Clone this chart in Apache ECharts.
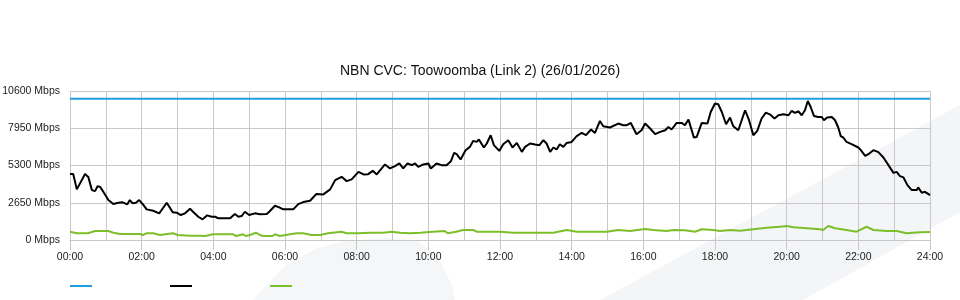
<!DOCTYPE html>
<html>
<head>
<meta charset="utf-8">
<script src="https://cdn.jsdelivr.net/npm/echarts@6/dist/echarts.min.js"></script>
<style>html,body{margin:0;padding:0;background:#fff;}#c{width:960px;height:300px;}</style>
</head>
<body>
<div id="c"></div>
<script>
// ---- data (hours of day, Mbps) ----
const titleText = 'NBN CVC: Toowoomba (Link 2) (26/01/2026)';
const yTicks = [0, 2650, 5300, 7950, 10600];
const xTickHours = [0, 2, 4, 6, 8, 10, 12, 14, 16, 18, 20, 22, 24];
const seriesNames = ['Capacity', 'Traffic', 'Other'];

const capacityTimes = [0, 24];
const capacityValues = [10050, 10050];

const trafficTimes = [0,0.09,0.19,0.42,0.51,0.61,0.70,0.77,0.84,0.93,1.07,1.21,1.35,1.47,1.60,1.67,1.75,1.84,1.93,2.03,2.14,2.32,2.49,2.70,2.87,2.98,3.09,3.21,3.35,3.44,3.58,3.70,3.83,3.95,4.05,4.14,4.47,4.60,4.70,4.79,4.88,5.00,5.16,5.30,5.49,5.56,5.72,5.84,5.95,6.14,6.23,6.37,6.51,6.70,6.87,7.07,7.26,7.40,7.58,7.72,7.86,8.05,8.19,8.32,8.45,8.56,8.79,8.93,9.07,9.19,9.30,9.42,9.54,9.63,9.72,9.86,10.00,10.07,10.23,10.37,10.51,10.63,10.72,10.79,10.90,11.04,11.16,11.25,11.35,11.41,11.55,11.63,11.74,11.83,11.98,12.09,12.23,12.35,12.47,12.61,12.70,12.84,12.98,13.10,13.21,13.30,13.40,13.49,13.58,13.67,13.77,13.86,14.00,14.14,14.28,14.40,14.54,14.65,14.79,14.88,15.07,15.30,15.44,15.54,15.65,15.81,15.95,16.05,16.19,16.33,16.47,16.61,16.70,16.79,16.93,17.07,17.16,17.26,17.41,17.49,17.63,17.79,17.88,18.00,18.09,18.19,18.31,18.42,18.51,18.65,18.84,18.95,19.07,19.18,19.30,19.42,19.54,19.66,19.77,19.91,20.05,20.14,20.23,20.33,20.42,20.51,20.59,20.67,20.76,20.88,20.98,21.04,21.13,21.26,21.35,21.44,21.51,21.58,21.67,21.81,22.00,22.07,22.19,22.28,22.42,22.56,22.70,22.84,22.98,23.07,23.16,23.26,23.37,23.49,23.63,23.67,23.77,23.86,24.00];
const trafficValues = [4690,4690,3600,4690,4490,3550,3480,3830,3780,3430,2840,2556,2650,2680,2535,2840,2605,2650,2840,2556,2180,2080,1896,2650,1967,1940,1775,1896,2222,1988,1654,1470,1754,1654,1654,1540,1540,1846,1654,1704,2009,1775,1896,1825,1846,2009,2435,2322,2180,2180,2180,2556,2698,2790,3266,3245,3600,4260,4494,4189,4310,4849,4665,4686,4920,4665,5375,5091,5254,5446,5091,5446,5325,5446,5204,5375,5446,5091,5446,5325,5325,5609,6198,6106,5730,6390,6624,7050,6979,7150,6582,6866,7455,6745,6340,6816,7100,6582,6908,6269,6624,6866,6795,6745,7100,6866,6269,6582,6440,6816,6624,6908,6979,7384,7618,7455,7860,7618,8470,8094,8002,8286,8165,8165,8328,7526,7810,8286,7931,7526,7689,7810,8044,7860,8328,8328,8165,8570,7292,7334,8328,8286,9109,9706,9656,9109,8236,8712,8094,7810,9230,8520,7455,7760,8641,9067,8925,8641,8875,8946,8875,9180,9038,9159,8875,9230,9890,9464,8825,8754,8754,8520,8712,8754,8520,8002,7384,7292,6979,6816,6582,6390,5985,6106,6390,6248,5872,5325,4778,4849,4544,4452,3905,3550,3550,3742,3358,3429,3195];

const otherTimes = [0,0.19,0.50,0.70,1.07,1.21,1.40,1.95,2.03,2.14,2.32,2.51,2.87,3.01,3.35,3.63,3.77,3.99,4.55,4.64,4.83,4.91,5.02,5.19,5.30,5.39,5.66,5.72,5.86,6.14,6.33,6.50,6.64,6.74,6.98,7.20,7.58,7.72,8.04,8.37,8.74,8.98,9.21,9.49,9.77,10.13,10.46,10.54,10.78,10.97,11.25,11.35,11.63,12.00,12.37,12.93,13.49,13.86,14.14,14.60,14.98,15.30,15.63,16.05,16.28,16.65,16.84,17.16,17.44,17.63,17.95,18.14,18.42,18.70,19.07,19.44,19.81,20.00,20.19,20.56,20.93,21.02,21.16,21.35,21.67,21.95,22.23,22.42,22.79,23.07,23.35,23.53,23.72,24.00];
const otherValues = [590,476,476,639,639,518,426,426,355,476,476,355,476,355,305,305,284,405,405,284,405,284,355,518,355,284,284,405,284,405,476,476,405,355,355,476,590,476,476,518,518,590,518,476,518,590,639,476,590,710,710,590,590,590,518,518,518,710,590,590,590,710,639,781,710,639,710,689,590,760,710,639,710,660,760,873,944,994,902,831,760,710,994,831,710,590,944,710,639,639,476,518,547,568];

// ---- chart ----
const font = '"Liberation Sans", Arial, sans-serif';
const pair = (ts, vs) => ts.map((t, i) => [t, vs[i]]);
const colors = ['#1e9fe0', '#000000', '#7cbf2a'];

const chart = echarts.init(document.getElementById('c'), null, {renderer: 'canvas'});
chart.setOption({
  animation: false,
  backgroundColor: '#ffffff',
  textStyle: {fontFamily: font},
  title: {
    text: titleText, left: 'center', top: 64, padding: 0,
    textStyle: {fontFamily: font, fontSize: 14, fontWeight: 'normal', color: '#111'}
  },
  graphic: {
    elements: [
      {type: 'polygon', z: -100, silent: true,
       shape: {points: [[600,300],[960,105],[960,212],[803,300]]},
       style: {fill: '#f4f5f7'}},
      {type: 'polygon', z: -100, silent: true,
       shape: {points: [[253,300],[285,266],[315,249],[345,241],[385,238],[417,240],[438,258],[452,285],[455,300]]},
       style: {fill: '#f5f6f8'}}
    ]
  },
  legend: {
    data: seriesNames, left: 70, top: 285, padding: 0,
    icon: 'rect', itemWidth: 22, itemHeight: 2, itemGap: 78,
    formatter: () => '', textStyle: {fontSize: 10}
  },
  grid: {left: 70, right: 30, top: 91, bottom: 60, containLabel: false, outerBoundsMode: 'none'},
  xAxis: {
    type: 'value', min: 0, max: 24, interval: 2,
    axisLine: {show: true, lineStyle: {color: '#c8c8c8', width: 1}},
    axisTick: {show: true, length: 10, lineStyle: {color: '#c8c8c8'}},
    axisLabel: {margin: 12, fontSize: 10.5, color: '#222', fontFamily: font,
      formatter: v => (v < 10 ? '0' : '') + v + ':00'},
    splitLine: {show: true, lineStyle: {color: '#c8c8c8', width: 1}},
    minorTick: {show: false, splitNumber: 2},
    minorSplitLine: {show: true, lineStyle: {color: '#c8c8c8', width: 1}}
  },
  yAxis: {
    type: 'value', min: yTicks[0], max: yTicks[yTicks.length - 1], interval: 2650,
    axisLine: {show: false}, axisTick: {show: false},
    axisLabel: {margin: 10, fontSize: 10.5, color: '#222', fontFamily: font, padding: [0, 0, 5, 0],
      formatter: v => v + ' Mbps'},
    splitLine: {show: true, lineStyle: {color: '#c8c8c8', width: 1}}
  },
  series: [
    {name: seriesNames[0], type: 'line', showSymbol: false, symbol: 'none',
     data: pair(capacityTimes, capacityValues), lineStyle: {color: colors[0], width: 2}, itemStyle: {color: colors[0]}},
    {name: seriesNames[1], type: 'line', showSymbol: false, symbol: 'none',
     data: pair(trafficTimes, trafficValues), lineStyle: {color: colors[1], width: 2}, itemStyle: {color: colors[1]}},
    {name: seriesNames[2], type: 'line', showSymbol: false, symbol: 'none',
     data: pair(otherTimes, otherValues), lineStyle: {color: colors[2], width: 2}, itemStyle: {color: colors[2]}}
  ]
});
</script>
</body>
</html>
